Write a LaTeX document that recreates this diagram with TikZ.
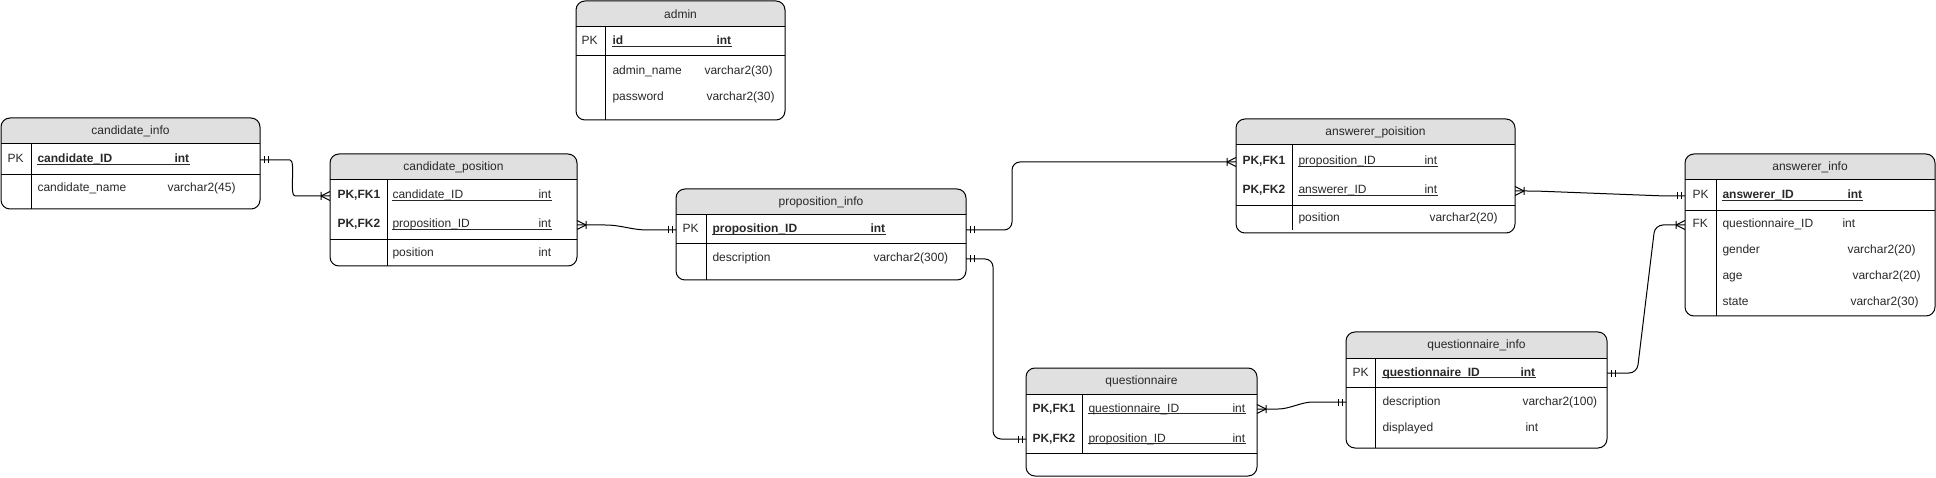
\documentclass[tikz,border=0pt]{standalone}
\usepackage{fontspec}
\setmainfont{Liberation Sans}
\usetikzlibrary{calc,decorations.markings}

\definecolor{headgray}{RGB}{224,224,224}
\definecolor{txtgray}{RGB}{40,40,40}
\newcommand{\erfont}{\fontsize{12pt}{14pt}\selectfont}

% name, x, y, width, height, column, key line, column end, title
\newcommand{\ertable}[9]{%
  \node[tbl, minimum width=#4pt, minimum height=#5pt] (#1) at (#2,#3) {};
  \begin{scope}
    \clip[rounded corners=9pt] (#1.north west) rectangle (#1.south east);
    \fill[headgray] (#1.north west) rectangle ([yshift=-26pt]#1.north east);
  \end{scope}
  \draw[rounded corners=9pt] (#1.north west) rectangle (#1.south east);
  \draw ([yshift=-26pt]#1.north west) -- ([yshift=-26pt]#1.north east);
  \draw ([yshift=-#7pt]#1.north west) -- ([yshift=-#7pt]#1.north east);
  \draw ([xshift=#6pt,yshift=-26pt]#1.north west) -- ([xshift=#6pt,yshift=-#8pt]#1.north west);
  \node[title] (#1-title) at ([yshift=-13pt]#1.north) {#9};
}
\newcommand{\underkey}[2]{\draw[txtgray] ([yshift=-1.6pt]#1.base west) -- ([yshift=-1.6pt]#2.base east);}

\begin{document}
\begin{tikzpicture}[x=1pt, y=-1pt, line width=1pt]

 \tikzset{
    tbl/.style={anchor=north west, inner sep=0pt, outer sep=0pt},
    title/.style={inner sep=0pt, text=txtgray, font=\erfont},
    cell/.style={anchor=base west, inner sep=0pt, text height=9pt, text depth=3pt, text=txtgray, font=\erfont},
    keycell/.style={cell, font=\erfont\bfseries},
    rel/.style={draw, rounded corners=8pt},
    one start/.style={postaction={decorate, decoration={markings,
      mark=at position 4pt with {\draw (0pt,-3.5pt) -- (0pt,3.5pt);},
      mark=at position 8pt with {\draw (0pt,-3.5pt) -- (0pt,3.5pt);}}}},
    one end/.style={postaction={decorate, decoration={markings,
      mark=at position -4pt with {\draw (0pt,-3.5pt) -- (0pt,3.5pt);},
      mark=at position -8pt with {\draw (0pt,-3.5pt) -- (0pt,3.5pt);}}}},
    many start/.style={postaction={decorate, decoration={markings,
      mark=at position 9pt with {\draw (0pt,-4pt) -- (0pt,4pt) (0pt,0pt) -- (-9pt,4.5pt) (0pt,0pt) -- (-9pt,-4.5pt);}}}},
    many end/.style={postaction={decorate, decoration={markings,
      mark=at position -9pt with {\draw (0pt,-4pt) -- (0pt,4pt) (0pt,0pt) -- (9pt,4.5pt) (0pt,0pt) -- (9pt,-4.5pt);}}}},
  }

  \useasboundingbox (0,0) rectangle (1936,478);

  % admin
  \ertable{admin}{576}{1}{209}{119}{29}{55}{119}{admin}
  \node[cell] (admin-pk) at (581,45) {PK};
  \node[keycell] (admin-id) at (612,45) {id};
  \node[keycell] (admin-idt) at (716,45) {int};
  \underkey{admin-id}{admin-idt}
  \node[cell] (admin-name) at (612,75) {admin\_name};
  \node[cell] (admin-namet) at (704,75) {varchar2(30)};
  \node[cell] (admin-pw) at (612,101) {password};
  \node[cell] (admin-pwt) at (706,101) {varchar2(30)};

  % candidate_info
  \ertable{ci}{1}{118}{259}{91}{30}{57}{91}{candidate\_info}
  \node[cell] (ci-pk) at (7,163) {PK};
  \node[keycell] (ci-id) at (37,163) {candidate\_ID};
  \node[keycell] (ci-idt) at (174,163) {int};
  \underkey{ci-id}{ci-idt}
  \node[cell] (ci-name) at (37,192) {candidate\_name};
  \node[cell] (ci-namet) at (167,192) {varchar2(45)};

  % candidate_position
  \ertable{cp}{330}{154}{247}{112}{57}{86}{112}{candidate\_position}
  \node[keycell] (cp-fk1) at (337,199) {PK,FK1};
  \node[cell] (cp-cid) at (392,199) {candidate\_ID};
  \node[cell] (cp-cidt) at (538,199) {int};
  \underkey{cp-cid}{cp-cidt}
  \node[keycell] (cp-fk2) at (337,228) {PK,FK2};
  \node[cell] (cp-pid) at (392,228) {proposition\_ID};
  \node[cell] (cp-pidt) at (538,228) {int};
  \underkey{cp-pid}{cp-pidt}
  \node[cell] (cp-pos) at (392,257) {position};
  \node[cell] (cp-post) at (538,257) {int};

  % proposition_info
  \ertable{pi}{676}{189}{290}{91}{30}{55}{91}{proposition\_info}
  \node[cell] (pi-pk) at (682,233) {PK};
  \node[keycell] (pi-id) at (712,233) {proposition\_ID};
  \node[keycell] (pi-idt) at (870,233) {int};
  \underkey{pi-id}{pi-idt}
  \node[cell] (pi-desc) at (712,262) {description};
  \node[cell] (pi-desct) at (873,262) {varchar2(300)};

  % answerer_poisition
  \ertable{ap}{1236}{119}{279}{114}{56}{87}{111}{answerer\_poisition}
  \node[keycell] (ap-fk1) at (1242,165) {PK,FK1};
  \node[cell] (ap-pid) at (1298,165) {proposition\_ID};
  \node[cell] (ap-pidt) at (1424,165) {int};
  \underkey{ap-pid}{ap-pidt}
  \node[keycell] (ap-fk2) at (1242,194) {PK,FK2};
  \node[cell] (ap-aid) at (1298,194) {answerer\_ID};
  \node[cell] (ap-aidt) at (1424,194) {int};
  \underkey{ap-aid}{ap-aidt}
  \node[cell] (ap-pos) at (1298,222) {position};
  \node[cell] (ap-post) at (1429,222) {varchar2(20)};

  % answerer_info
  \ertable{ai}{1685}{154}{250}{162}{31}{57}{162}{answerer\_info}
  \node[cell] (ai-pk) at (1692,199) {PK};
  \node[keycell] (ai-id) at (1722,199) {answerer\_ID};
  \node[keycell] (ai-idt) at (1847,199) {int};
  \underkey{ai-id}{ai-idt}
  \node[cell] (ai-fk) at (1692,228) {FK};
  \node[cell] (ai-qid) at (1722,228) {questionnaire\_ID};
  \node[cell] (ai-qidt) at (1842,228) {int};
  \node[cell] (ai-gen) at (1722,254) {gender};
  \node[cell] (ai-gent) at (1847,254) {varchar2(20)};
  \node[cell] (ai-age) at (1722,280) {age};
  \node[cell] (ai-aget) at (1852,280) {varchar2(20)};
  \node[cell] (ai-st) at (1722,306) {state};
  \node[cell] (ai-stt) at (1850,306) {varchar2(30)};

  % questionnaire
  \ertable{q}{1026}{368}{231}{108}{56}{85}{85}{questionnaire}
  \node[keycell] (q-fk1) at (1032,412) {PK,FK1};
  \node[cell] (q-qid) at (1088,412) {questionnaire\_ID};
  \node[cell] (q-qidt) at (1232,412) {int};
  \underkey{q-qid}{q-qidt}
  \node[keycell] (q-fk2) at (1032,442) {PK,FK2};
  \node[cell] (q-pid) at (1088,442) {proposition\_ID};
  \node[cell] (q-pidt) at (1232,442) {int};
  \underkey{q-pid}{q-pidt}

  % questionnaire_info
  \ertable{qi}{1346}{332}{261}{116}{29}{55}{116}{questionnaire\_info}
  \node[cell] (qi-pk) at (1352,376) {PK};
  \node[keycell] (qi-id) at (1382,376) {questionnaire\_ID};
  \node[keycell] (qi-idt) at (1520,376) {int};
  \underkey{qi-id}{qi-idt}
  \node[cell] (qi-desc) at (1382,405) {description};
  \node[cell] (qi-desct) at (1522,405) {varchar2(100)};
  \node[cell] (qi-disp) at (1382,431) {displayed};
  \node[cell] (qi-dispt) at (1525,431) {int};

  % relations
  \draw[rel, one start, many end] (ci.east |- ci-pk) -- ++(22,0)
    .. controls +(14,0) and +(-14,0) .. ($(cp.west |- cp-fk1)+(-27,0)$) -- (cp.west |- cp-fk1);
  \draw[rel, many start, one end] (cp.east |- cp-fk2) -- ++(20,0)
    .. controls +(25,0) and +(-25,0) .. ($(pi.west |- pi-pk)+(-20,0)$) -- (pi.west |- pi-pk);
  \draw[rel, one start, many end] (pi.east |- pi-pk) -- ++(46,0) |- (ap.west |- ap-fk1);
  \draw[rel, one start, one end] (pi.east |- pi-desc) -- ++(27,0) |- (q.west |- q-fk2);
  \draw[rel, many start, one end] (ap.east |- ap-fk2) -- ++(20,0)
    -- ($(ai.west |- ai-pk)+(-20,0)$) -- (ai.west |- ai-pk);
  \draw[rel, many start, one end] (q.east |- q-fk1) -- ++(13,0)
    .. controls +(20,0) and +(-20,0) .. ($(qi.west |- qi-desc)+(-25,0)$) -- (qi.west |- qi-desc);
  \draw[rel, one start, many end] (qi.east |- qi-pk) -- ++(30,0)
    -- ($(ai.west |- ai-fk)+(-30,0)$) -- (ai.west |- ai-fk);

\end{tikzpicture}
\end{document}
